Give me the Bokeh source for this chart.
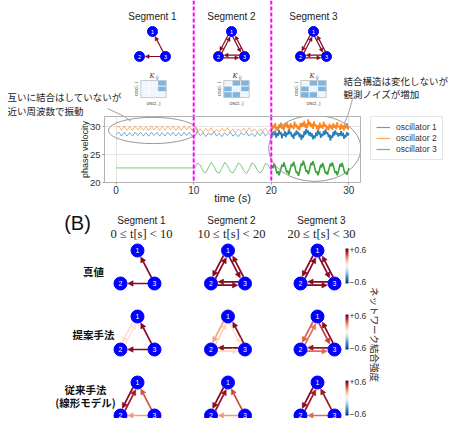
import math
import numpy as np
from bokeh.plotting import figure
from bokeh.models import (Range1d, ColumnDataSource, LinearColorMapper, Arrow, NormalHead,
                          Span, FixedTicker, Legend, LegendItem)
from bokeh.layouts import column, row
from bokeh.core.properties import value
from bokeh.embed import file_html
from bokeh.resources import INLINE

# ------------------------------------------------------------------ data
SEGMENT_NAMES = ["Segment 1", "Segment 2", "Segment 3"]
SEGMENT_RANGES = ["0 ≤ t[s] < 10", "10 ≤ t[s] < 20", "20 ≤ t[s] < 30"]
SEGMENT_BOUNDS = [10, 20]
OSC_LABELS = ["oscillator 1", "oscillator 2", "oscillator 3"]
NODE_LABELS = ["1", "2", "3"]
X_TICKS = [0, 10, 20, 30]
Y_TICKS = [20, 25, 30]

# segments 1-2 sampled every 0.35 s from t = 0; segment 3 spans 20..30 s
T_START_12, T_STEP_12 = 0.0, 0.35
T_START_3, T_END_3 = 20.0, 30.0

OSC1_SEG12 = [28.6, 29.0, 28.3, 29.0, 28.3, 28.9, 28.3, 29.0, 28.4, 29.0, 28.3, 28.9, 28.3, 29.0, 28.4,
              29.0, 28.3, 28.9, 28.3, 29.0, 28.4, 29.0, 28.3, 28.9, 28.3, 29.0, 28.4, 29.0, 28.3,
              28.3, 29.0, 28.4, 28.9, 28.2, 28.8, 28.5, 29.1, 28.3, 28.8, 28.2, 28.9, 28.4, 29.0, 28.3,
              28.7, 28.2, 28.9, 28.5, 29.0, 28.3, 28.8, 28.2, 28.9, 28.4, 29.1, 28.3, 28.8, 28.4]
OSC2_SEG12 = [29.7, 30.1, 29.3, 30.1, 29.3, 30.0, 29.3, 30.1, 29.4, 30.1, 29.3, 30.0, 29.3, 30.1, 29.4,
              30.1, 29.3, 30.0, 29.3, 30.1, 29.4, 30.1, 29.3, 30.0, 29.3, 30.1, 29.4, 30.1, 29.3,
              29.9, 29.0, 29.6, 28.9, 29.7, 29.1, 29.8, 28.9, 29.5, 29.0, 29.7, 29.2, 29.8, 29.0, 29.6,
              28.8, 29.5, 29.1, 29.7, 29.0, 29.8, 29.1, 29.6, 28.9, 29.5, 29.2, 29.7, 29.0, 29.6]
OSC3_SEG12 = [22.6, 22.6, 22.6, 22.6, 22.6, 22.6, 22.6, 22.6, 22.6, 22.6, 22.6, 22.6, 22.6, 22.6, 22.6,
              22.6, 22.6, 22.6, 22.6, 22.6, 22.6, 22.6, 22.6, 22.6, 22.6, 22.6, 22.6, 22.6, 22.6,
              22.6, 23.5, 23.1, 22.0, 21.7, 22.7, 23.6, 22.9, 21.9, 21.7, 22.6, 23.6, 23.0, 22.0, 21.7,
              22.5, 23.5, 23.1, 22.1, 21.6, 22.4, 23.5, 23.2, 22.2, 21.7, 22.3, 23.4, 23.1, 22.2]

OSC1_SEG3 = [28.9, 28.2, 29.1, 28.5, 29.3, 28.0, 28.8, 28.3, 29.4, 28.6, 29.0, 27.9, 28.7, 28.4, 29.2,
             28.1, 28.9, 28.5, 29.5, 28.7, 29.1, 28.2, 28.6, 27.8, 28.9, 28.4, 29.3, 28.6, 29.0, 28.1,
             28.7, 27.6, 28.5, 28.0, 29.2, 28.5, 29.6, 28.8, 29.3, 28.4, 29.0, 28.2, 28.8, 27.7, 28.4,
             27.9, 28.9, 28.3, 29.4, 28.6, 29.1, 28.0, 28.7, 28.3, 29.2, 28.5, 29.5, 28.7, 29.0, 28.1,
             28.6, 27.5, 28.4, 28.0, 29.1, 28.4, 29.3, 28.6, 28.9, 28.2, 28.8, 28.4, 29.2, 28.3, 28.9,
             27.8, 28.5, 28.1, 29.0, 28.4, 28.8]
OSC2_SEG3 = [30.1, 29.4, 30.3, 29.7, 30.6, 29.5, 30.0, 29.2, 30.4, 29.8, 30.7, 29.6, 30.2, 29.3, 30.5,
             29.9, 30.8, 29.7, 30.3, 29.4, 30.6, 29.8, 30.2, 29.5, 30.9, 29.9, 30.4, 29.6, 30.1, 29.3,
             30.6, 29.9, 30.7, 30.0, 31.0, 29.8, 30.5, 29.7, 31.3, 30.2, 30.8, 29.9, 30.5, 29.6, 30.9,
             30.1, 30.4, 29.5, 30.2, 29.4, 30.7, 29.8, 30.3, 29.6, 30.9, 30.0, 30.4, 29.5, 30.1, 29.3,
             30.5, 29.7, 30.2, 29.4, 30.6, 29.8, 30.3, 29.5, 30.8, 29.9, 30.1, 29.4, 30.5, 29.6, 30.2,
             29.3, 30.4, 29.7, 30.6, 29.5, 30.0]
OSC3_SEG3 = [22.4, 23.1, 22.6, 23.4, 22.9, 22.2, 21.6, 22.0, 21.3, 21.9, 22.5, 23.2, 22.8, 23.6, 23.0,
             22.4, 21.8, 22.1, 21.4, 22.0, 22.7, 23.3, 22.9, 23.7, 23.1, 22.3, 21.7, 21.9, 21.2, 21.8,
             22.6, 23.4, 23.0, 23.9, 23.3, 22.6, 21.9, 22.2, 21.5, 21.9, 22.8, 23.5, 23.1, 23.8, 23.2,
             22.5, 21.8, 22.0, 21.3, 21.7, 22.5, 23.2, 22.7, 23.5, 22.9, 22.2, 21.6, 21.9, 21.4, 22.1,
             22.8, 23.4, 22.9, 23.6, 23.0, 22.3, 21.7, 22.0, 21.3, 21.8, 22.6, 23.3, 22.8, 23.5, 22.9,
             22.2, 21.6, 21.9, 21.4, 22.0, 22.6]

# K_ij coupling matrices shown in panel A (row i, column j)
K_MATRICES = [
    [[0, 0, 1], [0, 0, 1], [0, 0, 0]],
    [[0, 1, 1], [1, 0, 1], [1, 1, 0]],
    [[0, 1, 1], [1, 0, 1], [1, 1, 0]],
]

# directed edges (source, target, coupling strength)
ALL6 = [(1, 2, 0.55), (2, 1, 0.55), (1, 3, 0.55), (3, 1, 0.55), (2, 3, 0.55), (3, 2, 0.55)]
A_EDGES = [[(3, 1, 0.55), (3, 2, 0.55)], ALL6, ALL6]
TRUE_EDGES = [[(3, 1, 0.55), (3, 2, 0.55)], ALL6, ALL6]
PROPOSED_EDGES = [
    [(3, 1, 0.55), (3, 2, 0.55), (1, 2, 0.10), (2, 1, 0.07)],
    [(1, 2, 0.24), (2, 1, 0.14), (3, 1, 0.55), (1, 3, 0.08), (3, 2, 0.55), (2, 3, 0.12)],
    [(1, 2, 0.36), (2, 1, 0.32), (3, 1, 0.55), (1, 3, 0.42), (3, 2, 0.52), (2, 3, 0.34)],
]
CONVENTIONAL_EDGES = [
    [(1, 2, 0.55), (2, 1, 0.50), (3, 1, 0.38), (3, 2, 0.25)],
    [(1, 2, 0.55), (2, 1, 0.52), (3, 1, 0.40), (3, 2, 0.26)],
    [(1, 2, 0.55), (2, 1, 0.50), (3, 1, 0.52), (3, 2, 0.34)],
]
B_ROWS = [TRUE_EDGES, PROPOSED_EDGES, CONVENTIONAL_EDGES]
ROW_LABELS = [["真値"], ["提案手法"], ["従来手法", "(線形モデル)"]]

NOTE_LEFT = ["互いに結合はしていないが", "近い周波数で振動"]
NOTE_RIGHT = ["結合構造は変化しないが", "観測ノイズが増加"]
CBAR_LABELS = ["+0.6", "−0.6"]
CBAR_TITLE = "ネットワーク結合強度"
W_LOW, W_HIGH = -0.6, 0.6

# ------------------------------------------------------------------ style
OSC_COLORS = ["#1f77b4", "#ff7f0e", "#2ca02c"]
NODE_COLOR = "#0000ff"
MAGENTA = "#ff00ff"
SANS = "Liberation Sans"
JP = "Noto Sans CJK JP"
RDBU = ['#053061', '#2166ac', '#4393c3', '#92c5de', '#d1e5f0', '#f7f7f7',
        '#fddbc7', '#f4a582', '#d6604d', '#b2182b', '#67001f']


def interp_palette(anchors, n):
    rgb = np.array([[int(h[i:i + 2], 16) for i in (1, 3, 5)] for h in anchors], float)
    pos = np.linspace(0, 1, len(anchors))
    out = []
    for q in np.linspace(0, 1, n):
        out.append('#%02x%02x%02x' % tuple(int(round(np.interp(q, pos, rgb[:, c]))) for c in range(3)))
    return out


edge_mapper = LinearColorMapper(palette=interp_palette(RDBU, 256), low=W_LOW, high=W_HIGH)
heat_mapper = LinearColorMapper(palette=["#eef5fc", "#7fb4dc"], low=0, high=1)
EDGE_SPEC = {"field": "w", "transform": edge_mapper}

# time-series frame geometry (screen px)
TS_XLIM = (-1.5, 31.5)
TS_YLIM = (20.0, 31.8)
TS_FRAME_LEFT, TS_FRAME_W = 104, 256


def t_to_px(t):
    return TS_FRAME_LEFT + (t - TS_XLIM[0]) * TS_FRAME_W / (TS_XLIM[1] - TS_XLIM[0])


def canvas_fig(w, h, y0, y1):
    p = figure(width=w, height=h, x_range=Range1d(0, w), y_range=Range1d(-y1, -y0),
               x_axis_type=None, y_axis_type=None, toolbar_location=None,
               output_backend="svg", min_border=0, outline_line_color=None)
    p.background_fill_color = "white"
    p.border_fill_color = "white"
    return p


def add_graph(p, cx, top, dxs, dys, size, edges, off, lw, head, fsize):
    r = size / 2.0
    pos = {k + 1: (cx + dxs[k], -(top + dys[k])) for k in range(3)}
    pairs = {(s, d) for s, d, _ in edges}
    cols = dict(x0=[], y0=[], x1=[], y1=[], w=[])
    for s, d, w in edges:
        (xa, ya), (xb, yb) = pos[s], pos[d]
        dx, dy = xb - xa, yb - ya
        L = math.hypot(dx, dy)
        ux, uy = dx / L, dy / L
        nx, ny = uy, -ux
        o = off if (d, s) in pairs else 0.0
        cols["x0"].append(xa + ux * r + nx * o)
        cols["y0"].append(ya + uy * r + ny * o)
        cols["x1"].append(xb - ux * (r + 0.6) + nx * o)
        cols["y1"].append(yb - uy * (r + 0.6) + ny * o)
        cols["w"].append(w)
    arr = Arrow(source=ColumnDataSource(cols), x_start="x0", y_start="y0", x_end="x1", y_end="y1",
                line_color=EDGE_SPEC, line_width=lw, level="underlay",
                end=NormalHead(size=head, fill_color=EDGE_SPEC, line_color=EDGE_SPEC, line_width=0.5))
    p.add_layout(arr)
    xs = [pos[k + 1][0] for k in range(3)]
    ys = [pos[k + 1][1] for k in range(3)]
    p.scatter(xs, ys, size=size, marker="circle", fill_color=NODE_COLOR, line_color=NODE_COLOR)
    p.text(xs, ys, text=NODE_LABELS, text_color="white", text_align="center",
           text_baseline="middle", text_font=value(SANS), text_font_size=fsize)


# ------------------------------------------------------------------ top: graphs + K_ij
top = canvas_fig(448, 116, 0, 116)
A_CX = [152, 231, 313]
A_HX = [153, 236, 313]
A_DX, A_DY = [0, -13, 13], [0, 25, 25]
for s in range(3):
    add_graph(top, A_CX[s], 31, A_DX, A_DY, 10, A_EDGES[s], 1.3, 1.2, 4, "5.5px")

top.text(A_CX, [-16] * 3, text=SEGMENT_NAMES, text_align="center", text_baseline="middle",
         text_font=value(SANS), text_font_size="10px", text_color="#222222")

HEAT_TOP, HEAT_W, HEAT_H = 80, 25.5, 17
hx, hy, hk = [], [], []
for s, K in enumerate(K_MATRICES):
    for i in range(3):
        for j in range(3):
            hx.append(A_HX[s] - HEAT_W / 2 + (j + 0.5) * HEAT_W / 3)
            hy.append(-(HEAT_TOP + (i + 0.5) * HEAT_H / 3))
            hk.append(K[i][j])
top.rect(x="x", y="y", width=HEAT_W / 3, height=HEAT_H / 3,
         fill_color={"field": "k", "transform": heat_mapper}, line_color="white", line_width=0.6,
         source=ColumnDataSource(dict(x=hx, y=hy, k=hk)))
top.rect(A_HX, [-(HEAT_TOP + HEAT_H / 2)] * 3, width=HEAT_W, height=HEAT_H,
         fill_color=None, line_color="#aaaaaa", line_width=0.6)
top.text([x - 1.5 for x in A_HX], [-(HEAT_TOP - 5)] * 3, text=["K"] * 3, text_align="center",
         text_baseline="middle", text_font=value("DejaVu Serif"), text_font_style="italic",
         text_font_size="7px", text_color="#333333")
top.text([x + 2.2 for x in A_HX], [-(HEAT_TOP - 3.2)] * 3, text=["ij"] * 3, text_align="left",
         text_baseline="middle", text_font=value("DejaVu Serif"), text_font_style="italic",
         text_font_size="4.5px", text_color="#333333")
top.text(A_HX, [-(HEAT_TOP + HEAT_H + 5)] * 3, text=["osci. j"] * 3, text_align="center",
         text_baseline="middle", text_font=value(SANS), text_font_size="5.5px", text_color="#555555")
top.text([x - HEAT_W / 2 - 5 for x in A_HX], [-(HEAT_TOP + HEAT_H / 2)] * 3, text=["osci. i"] * 3,
         angle=math.pi / 2, text_align="center", text_baseline="middle", text_font=value(SANS),
         text_font_size="5.5px", text_color="#555555")

top.text([7, 7], [-96, -110], text=NOTE_LEFT, text_align="left", text_baseline="middle",
         text_font=value(JP), text_font_size="9.5px", text_color="#222222")
top.text([343, 343], [-80.5, -93], text=NOTE_RIGHT, text_align="left", text_baseline="middle",
         text_font=value(JP), text_font_size="9.5px", text_color="#222222")
top.line([107, 124], [-108, -116], line_color="#888888", line_width=0.8)
top.line([352, 347], [-99, -116], line_color="#888888", line_width=0.8)
for b in SEGMENT_BOUNDS:
    top.add_layout(Span(location=t_to_px(b), dimension="height", line_color=MAGENTA,
                        line_dash="4 2", line_width=2))

# ------------------------------------------------------------------ middle: time series
ts = figure(width=362, height=96, x_range=Range1d(*TS_XLIM), y_range=Range1d(*TS_YLIM),
            toolbar_location=None, output_backend="svg",
            min_border_left=TS_FRAME_LEFT, min_border_right=2, min_border_top=0, min_border_bottom=30)
ts.background_fill_color = "white"
ts.border_fill_color = "white"
ts.outline_line_color = "#b3b3b3"
ts.grid.grid_line_color = "#e6e6e6"
ts.xaxis.ticker = FixedTicker(ticks=X_TICKS)
ts.yaxis.ticker = FixedTicker(ticks=Y_TICKS)
ts.xaxis.axis_label = "time (s)"
ts.yaxis.axis_label = "phase velocity"
for ax in (ts.xaxis[0], ts.yaxis[0]):
    ax.axis_line_color = None
    ax.major_tick_line_color = "#999999"
    ax.major_tick_out = 2
    ax.major_tick_in = 0
    ax.minor_tick_line_color = None
    ax.major_label_text_font = SANS
    ax.major_label_text_color = "#333333"
    ax.major_label_standoff = 2
    ax.axis_label_text_font = SANS
    ax.axis_label_text_font_style = "normal"
    ax.axis_label_text_color = "#222222"
ts.xaxis.major_label_standoff = 1
ts.xaxis.axis_label_standoff = -5
ts.yaxis.axis_label_standoff = -3
ts.xaxis.major_label_text_font_size = "10px"
ts.yaxis.major_label_text_font_size = "9.5px"
ts.xaxis.axis_label_text_font_size = "11px"
ts.yaxis.axis_label_text_font_size = "9px"

seg12 = [OSC1_SEG12, OSC2_SEG12, OSC3_SEG12]
seg3 = [OSC1_SEG3, OSC2_SEG3, OSC3_SEG3]
for vals, c in zip(seg12, OSC_COLORS):
    t = [T_START_12 + i * T_STEP_12 for i in range(len(vals))]
    ts.line(t, vals, line_color=c, line_width=1.0, line_alpha=0.6)
for vals, c in zip(seg3, OSC_COLORS):
    t = [T_START_3 + i * (T_END_3 - T_START_3) / (len(vals) - 1) for i in range(len(vals))]
    ts.line(t, vals, line_color=c, line_width=1.6, line_alpha=0.95)

ts.ellipse(x=[4.75], y=[29.3], width=[11.5], height=[4.7], fill_color=None,
           line_color="#999999", line_width=1)
ts.ellipse(x=[25.6], y=[26.1], width=[11.9], height=[11.8], fill_color=None,
           line_color="#999999", line_width=1)
ts.line([1.08, 1.9], [31.8, 30.9], line_color="#888888", line_width=0.8)
ts.line([29.8, 29.4], [31.8, 30.5], line_color="#888888", line_width=0.8)
for b in SEGMENT_BOUNDS:
    ts.add_layout(Span(location=b, dimension="height", line_color=MAGENTA,
                       line_dash="4 2", line_width=2))

lg = figure(width=86, height=96, x_range=Range1d(0, 1), y_range=Range1d(0, 1),
            x_axis_type=None, y_axis_type=None, toolbar_location=None, output_backend="svg",
            min_border_left=8, min_border_right=0, min_border_top=0, min_border_bottom=0,
            outline_line_color=None)
lg.background_fill_color = "white"
lg.border_fill_color = "white"
items = []
for lab, c in zip(OSC_LABELS, OSC_COLORS):
    # legend-only renderer: its points lie outside the visible range
    r = lg.line(x=[5, 6], y=[5, 5], line_color=c, line_width=1.2, line_alpha=0.7)
    items.append(LegendItem(label=lab, renderers=[r]))
legend = Legend(items=items, location="top_left", margin=0, padding=5, spacing=1,
                label_height=10, glyph_height=10, glyph_width=14, label_standoff=6,
                label_text_font=SANS, label_text_font_size="8.5px", label_text_color="#333333",
                border_line_color="#cccccc", background_fill_alpha=1.0)
lg.add_layout(legend)

# ------------------------------------------------------------------ bottom: panel B
pb = canvas_fig(448, 206, 212, 418)
B_CX = [137, 227.5, 317]
B_TITLE_X = [141, 231, 321]
B_TOP = [250, 316, 382]
B_DX, B_DY = [0, -17, 17], [0, 33, 33]

pb.text([77], [-222], text=["(B)"], text_align="center", text_baseline="middle",
        text_font=value(SANS), text_font_size="20px", text_color="#111111")
pb.text(B_TITLE_X, [-220] * 3, text=SEGMENT_NAMES, text_align="center", text_baseline="middle",
        text_font=value(SANS), text_font_size="10px", text_color="#222222")
pb.text(B_TITLE_X, [-233.5] * 3, text=SEGMENT_RANGES, text_align="center", text_baseline="middle",
        text_font=value("Liberation Serif"), text_font_size="12.5px", text_color="#222222")

for ri, edges_row in enumerate(B_ROWS):
    for s in range(3):
        add_graph(pb, B_CX[s], B_TOP[ri], B_DX, B_DY, 13, edges_row[s], 1.7, 1.7, 5.5, "7px")

ROW_LABEL_Y = [[271], [334], [389, 402]]
ROW_LABEL_X = [93, 93, 85]
for labs, ys, x in zip(ROW_LABELS, ROW_LABEL_Y, ROW_LABEL_X):
    pb.text([x] * len(labs), [-y for y in ys], text=labs, text_align="center",
            text_baseline="middle", text_font=value(JP), text_font_style="bold",
            text_font_size="10.5px", text_color="#111111")

ramp = np.linspace(W_LOW, W_HIGH, 128).reshape(-1, 1)
for ri in range(3):
    ctop, cbot = B_TOP[ri] - 2, B_TOP[ri] + 33
    pb.image(image=[ramp], x=345, y=-cbot, dw=3, dh=cbot - ctop, color_mapper=edge_mapper)
    pb.text([349, 349], [-(ctop + 1), -(cbot - 2)], text=CBAR_LABELS, text_align="left",
            text_baseline="middle", text_font=value(SANS), text_font_size="8.5px",
            text_color="#333333")
pb.text([374], [-334], text=[CBAR_TITLE], angle=-math.pi / 2, text_align="center",
        text_baseline="middle", text_font=value(JP), text_font_size="9.5px", text_color="#222222")

layout = column(top, row(ts, lg), pb)
open("out.html", "w").write(file_html(layout, INLINE))
